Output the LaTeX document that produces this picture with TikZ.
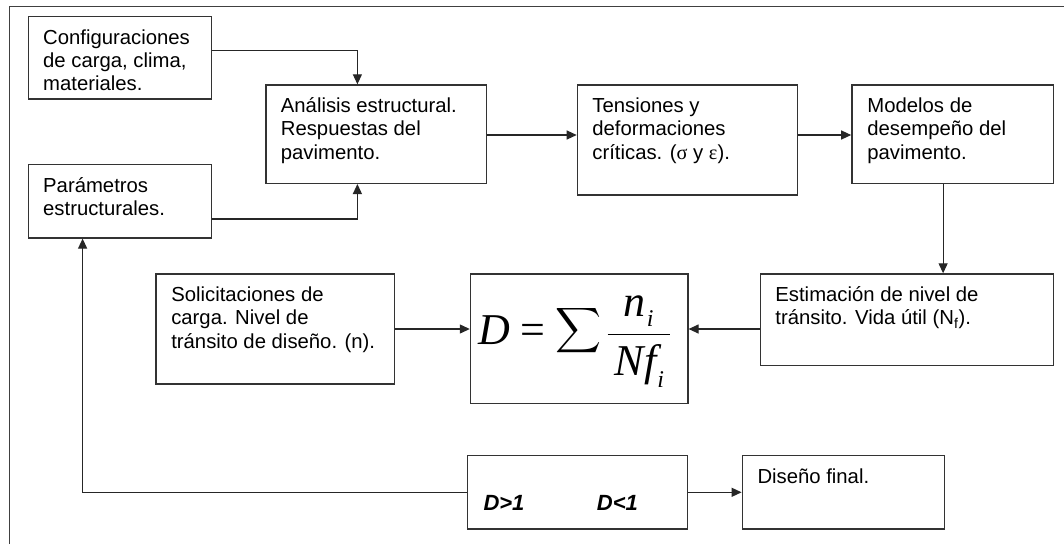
\RequirePackage{fix-cm}
\documentclass[tikz,border=0pt]{standalone}
\usepackage{fontspec}
\usepackage{graphicx}
\setmainfont{Liberation Sans}
\newfontfamily\tnr{Liberation Serif}
\usetikzlibrary{arrows.meta,calc}

\tikzset{
  box/.style={draw=black!80, line width=1.3pt, rectangle, inner sep=0pt, anchor=north west},
  txt/.style={anchor=north west, inner sep=0pt, align=left,
              font=\fontsize{20.3}{23.3}\selectfont},
  arr/.style={draw=black!85, line width=1.2pt, -{Triangle[length=10pt,width=9pt]}},
  frame/.style={draw=black!75, line width=1.4pt},
  cond/.style={anchor=base west, inner sep=0pt,
               font=\fontsize{22}{25}\selectfont\bfseries\itshape}
}
\newcommand{\fl}{\rule{0pt}{19pt}}
% pieces of the damage formula
\newcommand{\bigsum}{\vcenter{\hbox{\resizebox*{46pt}{58pt}{$\displaystyle\sum$}}}}
\newcommand{\eqit}[1]{\hbox{\fontsize{44}{48}\selectfont\tnr\itshape #1}}
\newcommand{\eqsub}[2]{\kern1pt\lower#1\hbox{\fontsize{24}{26}\selectfont\tnr\itshape #2}}

\begin{document}
\begin{tikzpicture}[x=1pt,y=1pt]
\useasboundingbox (0,0) rectangle (1064,-544);

% outer frame (only its left and top edges fall inside the page)
\draw[frame] (9.3,-544) -- (9.3,-6.7) -- (1064,-6.7);

% boxes
\node[box, minimum width=183.2, minimum height=82.3] (cfg) at (27.5,-16) {};
\node[box, minimum width=220.3, minimum height=98.4] (ana) at (265.2,-84.3) {};
\node[box, minimum width=183.2, minimum height=73.3] (par) at (27.5,-164) {};
\node[box, minimum width=220,   minimum height=110]  (ten) at (576.7,-84.3) {};
\node[box, minimum width=201.5, minimum height=98.4] (mod) at (851.2,-84.3) {};
\node[box, minimum width=238.6, minimum height=110]  (sol) at (155.3,-273.3) {};
\node[box, minimum width=217.5, minimum height=129.4] (frm) at (469.8,-273.3) {};
\node[box, minimum width=292.8, minimum height=91.7] (est) at (759.9,-273.3) {};
\node[box, minimum width=220,   minimum height=73.3] (dbx) at (466.7,-455) {};
\node[box, minimum width=202.2, minimum height=73.3] (dis) at (741.6,-455) {};

% box texts
\node[txt] (cfgT) at ($(cfg.north west)+(15.5,-9)$) {\fl Configuraciones\\de carga, clima,\\materiales.};
\node[txt] (anaT) at ($(ana.north west)+(15.5,-9)$) {\fl Análisis estructural.\\Respuestas del\\pavimento.};
\node[txt] (parT) at ($(par.north west)+(15.5,-9)$) {\fl Parámetros\\estructurales.};
\node[txt] (tenT) at ($(ten.north west)+(15.5,-9)$) {\fl Tensiones y\\deformaciones\\críticas. ({\tnr σ} y {\tnr ε}).};
\node[txt] (modT) at ($(mod.north west)+(16,-9)$) {\fl Modelos de\\desempeño del\\pavimento.};
\node[txt] (solT) at ($(sol.north west)+(15.8,-9)$) {\fl Solicitaciones de\\carga. Nivel de\\tránsito de diseño. (n).};
\node[txt] (estT) at ($(est.north west)+(15.3,-9)$) {\fl Estimación de nivel de\\tránsito. Vida útil (N\textsubscript{f}).};
\node[txt] (disT) at ($(dis.north west)+(15.7,-9)$) {\fl Diseño final.};

% damage formula
\coordinate (eqb) at (575,-344.4);
\node[inner sep=0pt, anchor=base] (eq) at (eqb)
  {\fontsize{41.5}{48}\selectfont\tnr
   $\displaystyle
   \eqit{D}\kern10pt\hbox{\fontsize{44}{48}\selectfont\tnr =}\kern10pt
   \bigsum\kern5pt
   \frac{\eqit{n}\eqsub{10pt}{i}}
        {\kern7pt\rule{0pt}{40pt}\eqit{Nf}\eqsub{12pt}{i}\kern6pt}$};

% decision labels
\node[cond] (gt) at ($(dbx.north west)+(16.6,-55)$) {D>1};
\node[cond] (lt) at ($(dbx.north west)+(130,-55)$) {D<1};

% junction coordinates
\coordinate (j1) at (357.4,-50.7);
\coordinate (j2) at (357.4,-219);
\coordinate (j3) at (0,-135);
\coordinate (j4) at (943.1,0);
\coordinate (j5) at (0,-329);
\coordinate (j6) at (82.6,0);

% connectors
\draw[arr] (cfg.east |- j1) -| (ana.north -| j1);
\draw[arr] (par.east |- j2) -| (ana.south -| j2);
\draw[arr] (ana.east |- j3) -- (ten.west |- j3);
\draw[arr] (ten.east |- j3) -- (mod.west |- j3);
\draw[arr] (mod.south -| j4) -- (est.north -| j4);
\draw[arr] (sol.east |- j5) -- (frm.west |- j5);
\draw[arr] (est.west |- j5) -- (frm.east |- j5);
\draw[arr] (dbx.east) -- (dis.west);
\draw[arr] (dbx.west) -| (par.south -| j6);
\end{tikzpicture}
\end{document}
